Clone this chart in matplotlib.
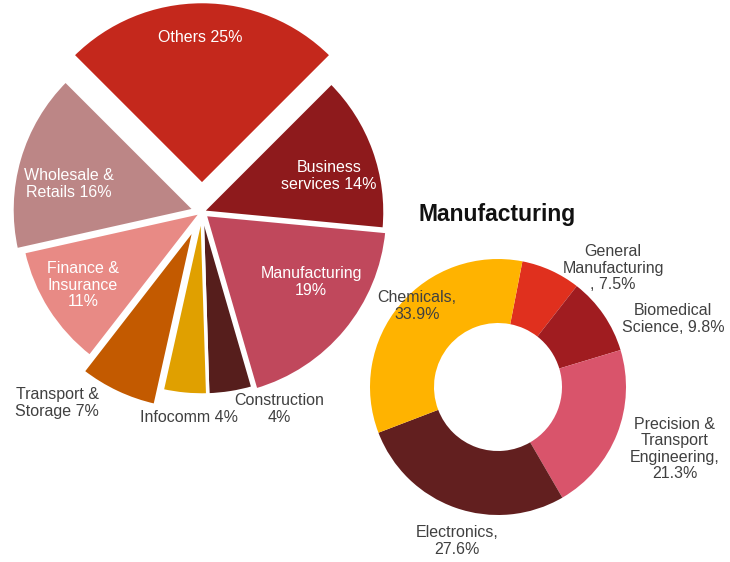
import matplotlib.pyplot as plt

plt.rcParams['font.family'] = ['Liberation Sans', 'DejaVu Sans']

# Left pie: economy sectors
sectors = ["Others", "Business\nservices", "Manufacturing\n", "Construction\n", "Infocomm",
           "Transport &\nStorage", "Finance &\nInsurance\n", "Wholesale &\nRetails"]
sector_share = [25, 14, 19, 4, 4, 7, 11, 16]
sector_colors = ["#C4281C", "#8E1A1C", "#C0485C", "#561E1C", "#E0A000",
                 "#C35A00", "#E88A85", "#BC8686"]
sector_explode = [0.15, 0.0, 0.02, 0.0, 0.0, 0.09, 0.0, 0.04]

# Right donut: manufacturing breakdown
mfg_labels = ["General\nManufacturing\n", "Biomedical\nScience", "Precision &\nTransport\nEngineering",
              "Electronics", "Chemicals"]
mfg_share = [7.5, 9.8, 21.3, 27.6, 33.9]
mfg_colors = ["#E0301E", "#A01C20", "#D9546B", "#621F1F", "#FFB300"]

W, H = 730, 562
fig = plt.figure(figsize=(W / 100, H / 100), dpi=100)
ax = fig.add_axes([0, 0, 1, 1])

def py(y):
    return H - y

R1 = 183
c1 = (202, py(212))
ax.pie(sector_share, colors=sector_colors, explode=[e * R1 for e in sector_explode],
       startangle=135, counterclock=False, center=c1, radius=R1,
       wedgeprops=dict(edgecolor='white', linewidth=2.5))

R2 = 128
c2 = (498, py(387))
ax.pie(mfg_share, colors=mfg_colors, startangle=79, counterclock=False,
       center=c2, radius=R2, wedgeprops=dict(width=R2 * 0.5, edgecolor='none'))

ax.set_xlim(0, W)
ax.set_ylim(0, H)
ax.set_aspect('equal')
ax.axis('off')

fs = 11.5
ls = 1.12
white_pos = {0: (200, 38), 1: (329, 176), 2: (311, 282), 6: (83, 285), 7: (69, 184)}
dark_pos = {3: (279, 409), 4: (189, 418), 5: (57, 403)}

def sector_text(i):
    name = sectors[i]
    if name.endswith("\n"):
        return f"{name}{sector_share[i]}%"
    return f"{name} {sector_share[i]}%"

for i, (x, y) in white_pos.items():
    ax.text(x, py(y), sector_text(i), color='white', fontsize=fs, ha='center', va='center',
            linespacing=ls)
for i, (x, y) in dark_pos.items():
    ax.text(x, py(y), sector_text(i), color='#404040', fontsize=fs, ha='center', va='center',
            linespacing=ls)

ax.text(497, py(215), "Manufacturing", fontsize=16.5, fontweight='bold', color='#111111',
        ha='center', va='center')

mfg_pos = [(613, 268), (673, 319), (675, 449), (457, 541), (417, 306)]
for lab, val, (x, y) in zip(mfg_labels, mfg_share, mfg_pos):
    if lab.endswith("\n"):
        txt = f"{lab}, {val}%"
    elif lab == "Biomedical\nScience":
        txt = f"{lab}, {val}%"
    else:
        txt = f"{lab},\n{val}%"
    ax.text(x, py(y), txt, color='#404040', fontsize=fs, ha='center', va='center',
            linespacing=ls)

fig.savefig("out.png", dpi=100)
